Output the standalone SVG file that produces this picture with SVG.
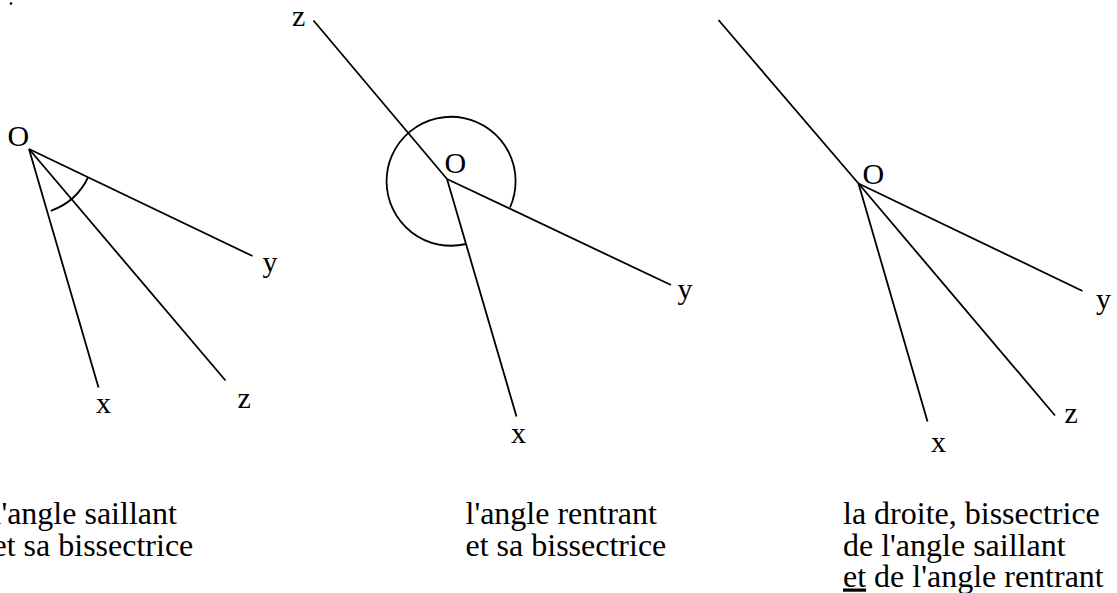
<svg xmlns="http://www.w3.org/2000/svg" width="1117" height="593" viewBox="0 0 1117 593">
<style>
.ln{stroke:#000;stroke-width:1.8;fill:none;stroke-linecap:butt}
.lb{font-family:"Liberation Serif","Times New Roman",serif;font-size:30px;fill:#000}
.cap{font-family:"Liberation Serif","Times New Roman",serif;font-size:32px;fill:#000}
</style>
<rect width="1117" height="593" fill="#fff"/>
<circle cx="11" cy="3.5" r="1.3" fill="#000"/>
<g id="connectors">
  <g id="rays1">
    <line class="ln" x1="29" y1="149" x2="252.5" y2="256"/>
    <line class="ln" x1="29" y1="149" x2="98.5" y2="387.5"/>
    <line class="ln" x1="29" y1="149" x2="225.5" y2="380.5"/>
    <path class="ln" d="M50.8,210.8 A65.5,65.5 0 0 0 88,177.5"/>
  </g>
  <g id="rays2">
    <line class="ln" x1="447" y1="179" x2="313.5" y2="20.5"/>
    <line class="ln" x1="447" y1="179" x2="671" y2="285"/>
    <line class="ln" x1="447" y1="179" x2="516.5" y2="416.5"/>
    <path class="ln" d="M510,207.5 A64.5,64.5 0 1 0 466,244"/>
  </g>
  <g id="rays3">
    <line class="ln" x1="858.5" y1="183.5" x2="718.5" y2="20"/>
    <line class="ln" x1="858.5" y1="183.5" x2="1082.5" y2="291"/>
    <line class="ln" x1="858.5" y1="183.5" x2="927.5" y2="421.5"/>
    <line class="ln" x1="858.5" y1="183.5" x2="1055" y2="415.5"/>
  </g>
</g>
<g id="figure1">
  <text class="lb" x="7.5" y="146">O</text>
  <text class="lb" x="262.5" y="272">y</text>
  <text class="lb" x="96" y="413">x</text>
  <text class="lb" x="237.5" y="407.5">z</text>
  <text class="cap" x="-7.5" y="523.5">l'angle saillant</text>
  <text class="cap" x="-7.5" y="556">et sa bissectrice</text>
</g>
<g id="figure2">
  <text class="lb" x="292" y="26">z</text>
  <text class="lb" x="444.5" y="172.5">O</text>
  <text class="lb" x="677.5" y="298.5">y</text>
  <text class="lb" x="511" y="442.5">x</text>
  <text class="cap" x="465.5" y="524">l'angle rentrant</text>
  <text class="cap" x="465.5" y="556">et sa bissectrice</text>
</g>
<g id="figure3">
  <text class="lb" x="862.5" y="184">O</text>
  <text class="lb" x="1096" y="309">y</text>
  <text class="lb" x="1064.5" y="423">z</text>
  <text class="lb" x="931" y="451.5">x</text>
  <text class="cap" x="843" y="524">la droite, bissectrice</text>
  <text class="cap" x="843" y="555.5">de l'angle saillant</text>
  <text class="cap" x="843" y="586.5"><tspan text-decoration="underline">et</tspan> de l'angle rentrant</text>
</g>
</svg>
